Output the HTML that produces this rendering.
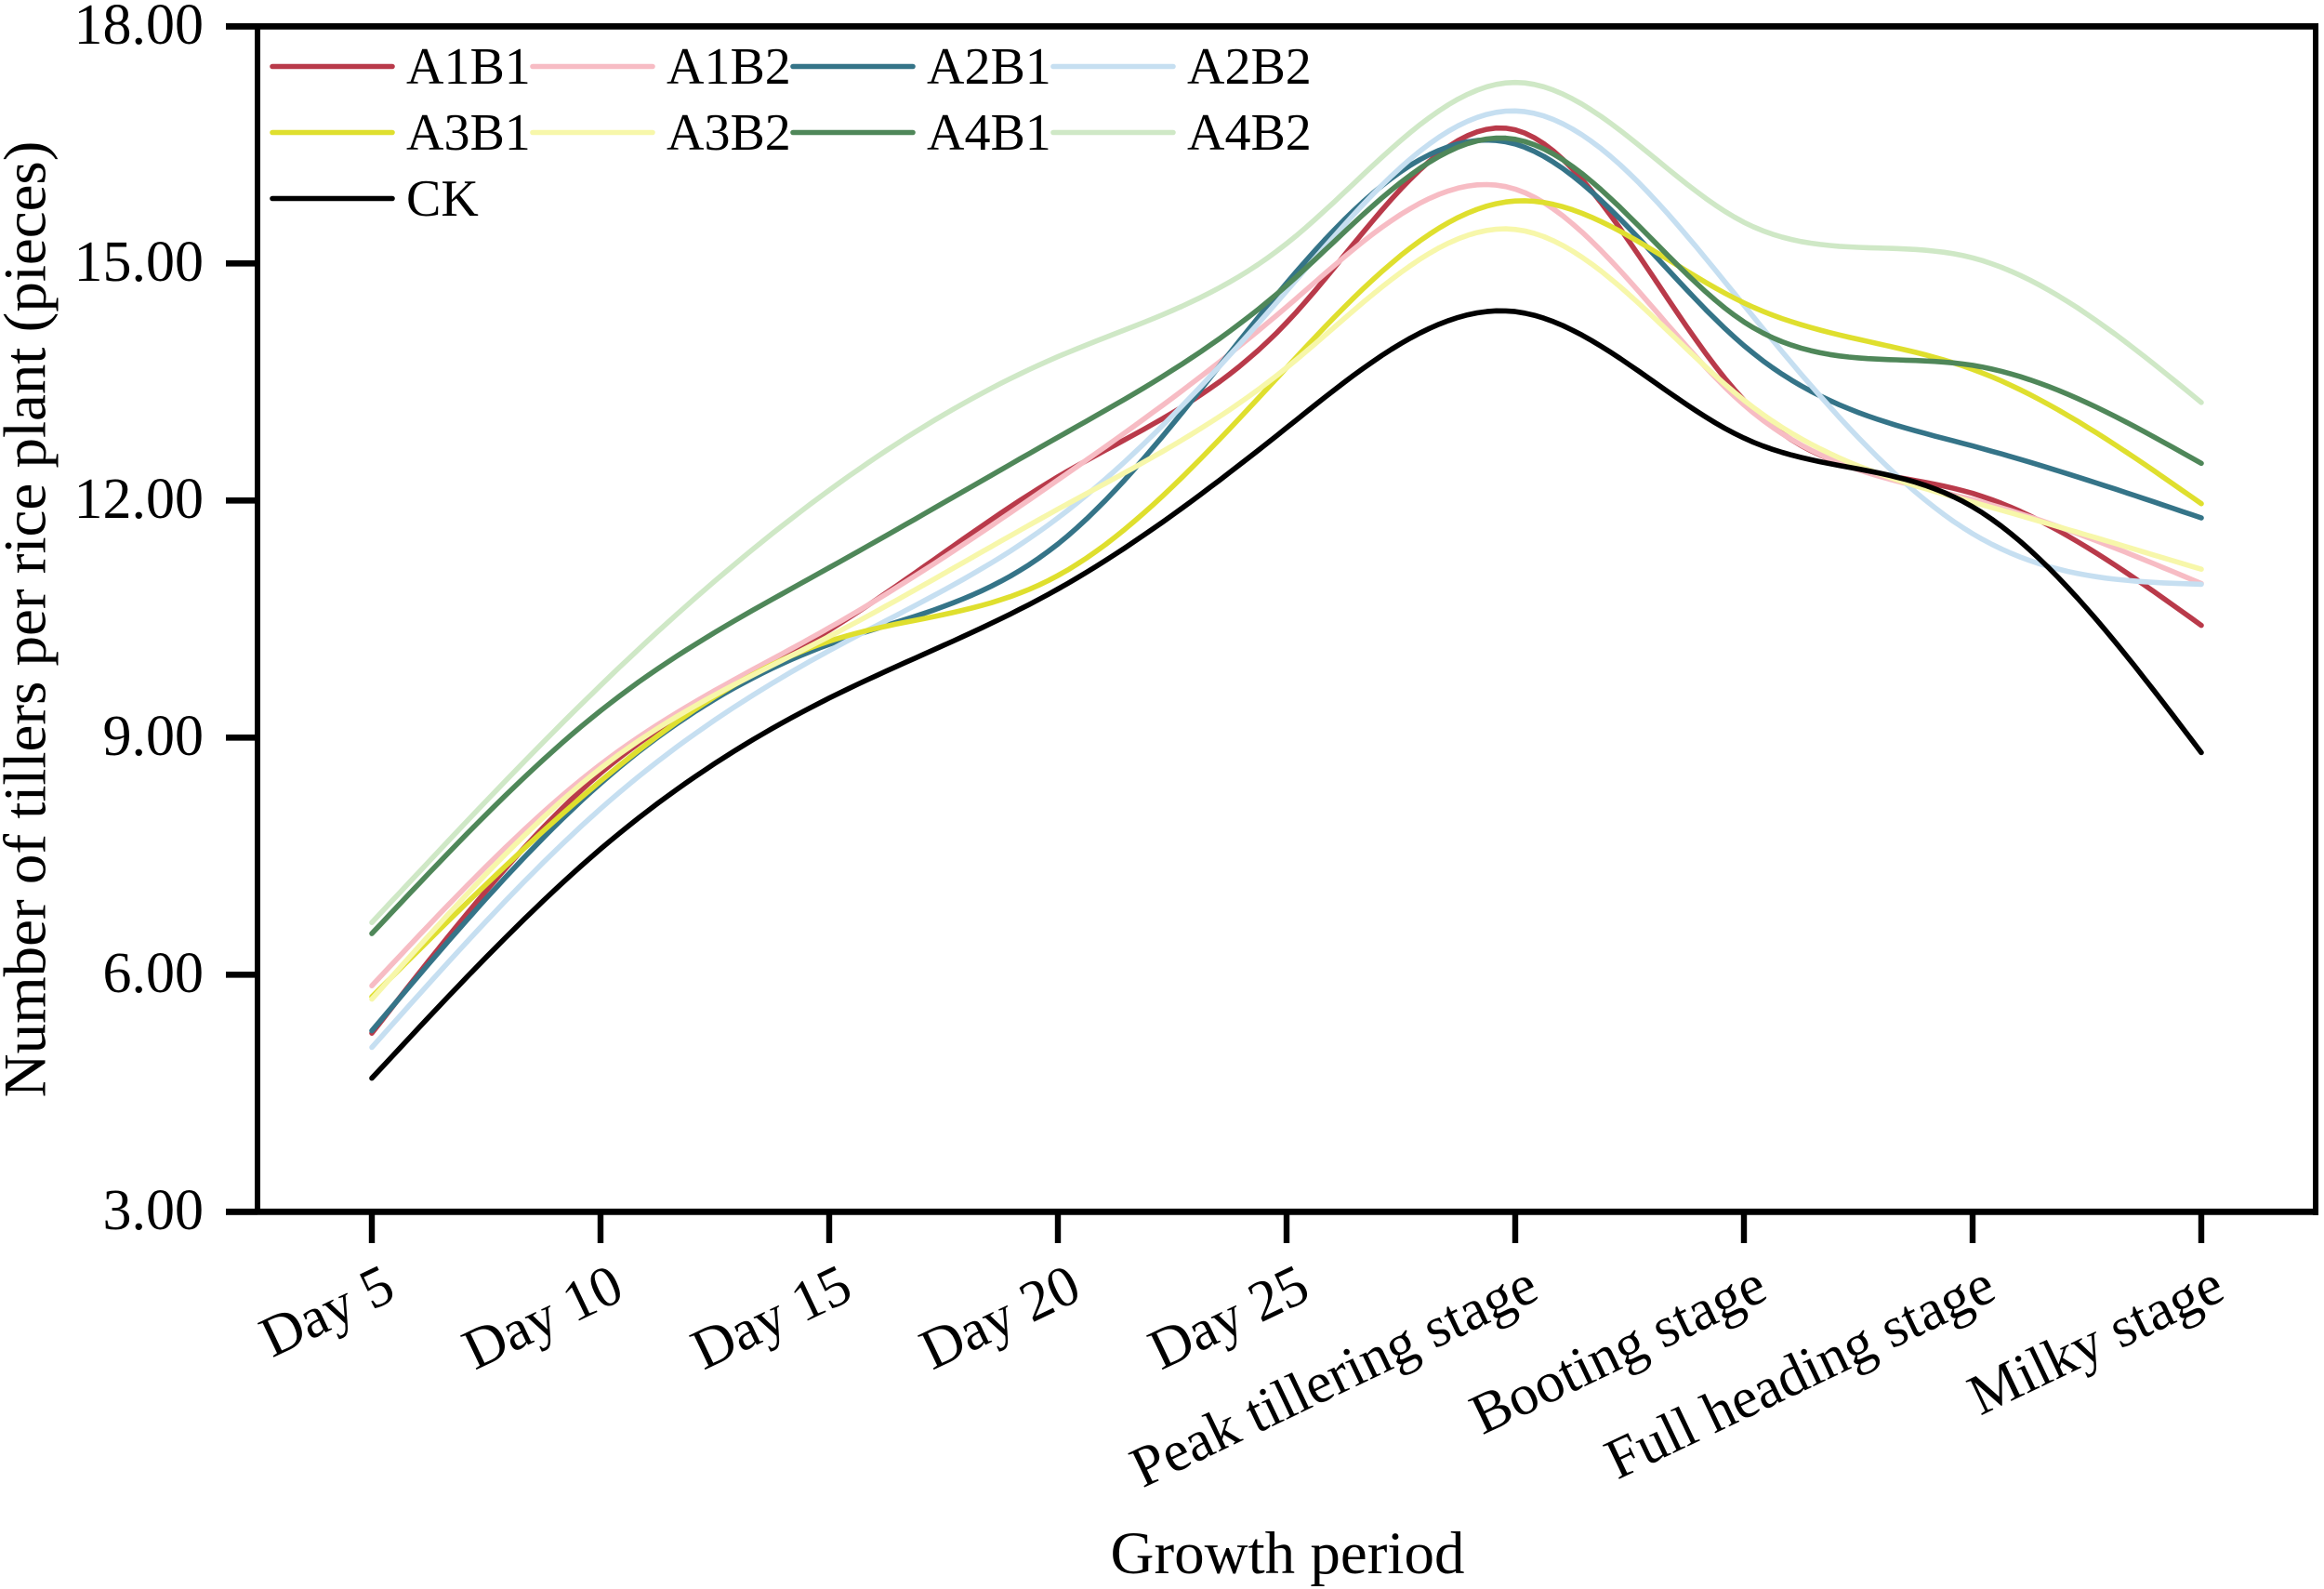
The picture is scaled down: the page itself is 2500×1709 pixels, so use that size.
<!DOCTYPE html>
<html>
<head>
<meta charset="utf-8">
<title>Number of tillers per rice plant</title>
<style>
html,body{margin:0;padding:0;background:#fff;width:2500px;height:1709px;overflow:hidden}
svg{display:block}
text{font-family:"Liberation Serif",serif;fill:#000}
</style>
</head>
<body>
<svg id="chart" xmlns="http://www.w3.org/2000/svg" width="2500" height="1709" viewBox="0 0 2500 1709"></svg>
<script>
const categories = ["Day 5","Day 10","Day 15","Day 20","Day 25","Peak tillering stage","Booting stage","Full heading stage","Milky stage"];
const yTicks = [3,6,9,12,15,18];
const A1B1 = [5.26,8.55,10.36,12.30,14.25,16.69,13.27,12.09,10.42];
const A1B2 = [5.86,8.66,10.39,12.26,14.45,15.94,13.21,12.01,10.95];
const A2B1 = [5.29,8.42,10.18,11.45,14.75,16.51,13.96,12.69,11.78];
const A2B2 = [5.08,8.10,10.10,11.78,14.65,16.93,14.47,11.58,10.94];
const A3B1 = [5.72,8.45,10.22,11.05,13.68,15.79,14.50,13.66,11.96];
const A3B2 = [5.69,8.61,10.28,11.89,13.68,15.43,13.27,11.98,11.13];
const A4B1 = [6.52,9.34,11.15,12.80,14.72,16.57,14.26,13.71,12.47];
const A4B2 = [6.66,9.66,12.13,13.82,15.25,17.29,15.52,15.07,13.24];
const CK   = [4.69,7.59,9.50,10.88,12.92,14.39,12.79,11.92,8.81];
const seriesNames = ["A1B1","A1B2","A2B1","A2B2","A3B1","A3B2","A4B1","A4B2","CK"];
const seriesValues = [A1B1,A1B2,A2B1,A2B2,A3B1,A3B2,A4B1,A4B2,CK];
const seriesColors = ["#b93a4a","#f7bcc4","#357488","#c6dff1","#dfdf2e","#f7f7aa","#4f8759","#cfe8c6","#000000"];

const NS = "http://www.w3.org/2000/svg";
const svg = document.getElementById("chart");
const X0 = 400, XSTEP = 246, Y3 = 1303.3, YUNIT = 85;
function xScale(i){ return X0 + XSTEP * i; }
function yScale(v){ return Y3 - (v - 3) * YUNIT; }
function make(tag, attrs, parent){
  const el = document.createElementNS(NS, tag);
  for (const k in attrs) el.setAttribute(k, attrs[k]);
  (parent || svg).appendChild(el);
  return el;
}
/* natural cubic spline second derivatives on a uniform grid */
function splineM(v){
  const n = v.length, a = new Array(n).fill(0), c = new Array(n).fill(0), m = new Array(n).fill(0);
  for (let i = 1; i < n - 1; i++){
    const p = 4 + a[i - 1];
    a[i] = -1 / p;
    c[i] = (6 * (v[i + 1] - 2 * v[i] + v[i - 1]) - c[i - 1]) / p;
  }
  for (let i = n - 2; i > 0; i--) m[i] = a[i] * m[i + 1] + c[i];
  return m;
}
function curvePath(v){
  const m = splineM(v);
  let d = "M" + xScale(0).toFixed(1) + " " + yScale(v[0]).toFixed(1);
  for (let i = 0; i < v.length - 1; i++){
    for (let s = 1; s <= 24; s++){
      const t = s / 24, u = 1 - t;
      const y = u * v[i] + t * v[i + 1] + ((u * u * u - u) * m[i] + (t * t * t - t) * m[i + 1]) / 6;
      d += "L" + xScale(i + t).toFixed(1) + " " + yScale(y).toFixed(1);
    }
  }
  return d;
}

/* series */
const seriesGroup = make("g", {fill:"none","stroke-width":5.6,"stroke-linecap":"round","stroke-linejoin":"round"});


seriesValues.forEach(function(vals, idx){
  const p = make("path", {d:curvePath(vals), stroke:seriesColors[idx]}, seriesGroup);
  
  
});

/* frame */
const frame = make("g", {stroke:"#000"});


make("line", {x1:277, x2:277, y1:28, y2:1303, "stroke-width":6}, frame);
make("line", {x1:2491, x2:2491, y1:28, y2:1307, "stroke-width":6}, frame);
make("line", {x1:243, x2:2494, y1:28.4, y2:28.4, "stroke-width":6.8}, frame);
make("line", {x1:243, x2:2494, y1:1303.3, y2:1303.3, "stroke-width":6.8}, frame);

/* y axis */
const yAxis = make("g", {});


yTicks.forEach(function(v){
  const t = make("line", {x1:243, x2:277, y1:yScale(v), y2:yScale(v), stroke:"#000", "stroke-width":6.6}, yAxis);
  
  
  const l = make("text", {x:219, y:yScale(v) + 18.5, "text-anchor":"end", "font-size":62}, yAxis);
  l.textContent = v.toFixed(2);
  
  
});

/* x axis */
const xAxis = make("g", {});


categories.forEach(function(c, i){
  const x = xScale(i);
  const t = make("line", {x1:x, x2:x, y1:1303, y2:1337, stroke:"#000", "stroke-width":6.4}, xAxis);
  
  
  const ax = x + 28, ay = 1396;
  const l = make("text", {x:ax, y:ay, "text-anchor":"end", "font-size":62, transform:"rotate(-25.5 " + ax + " " + ay + ")"}, xAxis);
  l.textContent = c;
  
  
});

/* titles */
const xTitle = make("text", {x:1385, y:1692, "text-anchor":"middle", "font-size":65});
xTitle.textContent = "Growth period";


const yTitle = make("text", {x:0, y:0, "text-anchor":"middle", "font-size":65, transform:"translate(48.5 666) rotate(-90)"});
yTitle.textContent = "Number of tillers per rice plant (pieces)";



/* legend */
const legend = make("g", {});


seriesNames.forEach(function(name, i){
  const col = i % 4, row = Math.floor(i / 4);
  const lx = 293 + col * 280, ly = 71.5 + row * 71;
  const g = make("g", {}, legend);
  
  
  make("line", {x1:lx, x2:lx + 129, y1:ly, y2:ly, stroke:seriesColors[i], "stroke-width":5.6, "stroke-linecap":"round"}, g);
  const t = make("text", {x:lx + 144, y:ly + 18.5, "font-size":56}, g);
  t.textContent = name;
});
</script>
</body>
</html>
